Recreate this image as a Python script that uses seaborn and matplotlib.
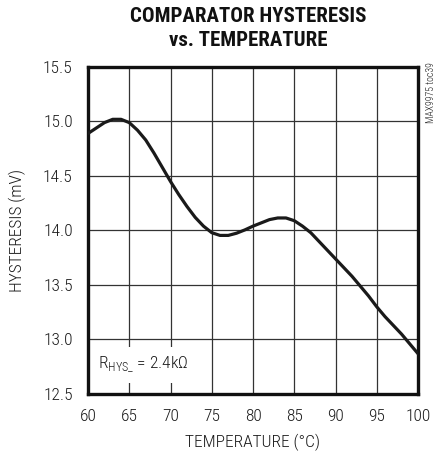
import matplotlib
matplotlib.use("Agg")
import matplotlib.pyplot as plt
from matplotlib.patches import Rectangle
import pandas as pd
import seaborn as sns

# Comparator hysteresis measured across temperature (RHYS_ = 2.4 kOhm)
temperature_c = [60, 61, 62, 63, 64, 65, 66, 67, 68, 69, 70,
                 71, 72, 73, 74, 75, 76, 77, 78, 79, 80,
                 81, 82, 83, 84, 85, 86, 87, 88, 89, 90,
                 91, 92, 93, 94, 95, 96, 97, 98, 99, 100]
hysteresis_mv = [14.89, 14.94, 14.99, 15.02, 15.02, 14.99, 14.92, 14.83, 14.71, 14.58, 14.45,
                 14.33, 14.22, 14.12, 14.04, 13.98, 13.955, 13.955, 13.975, 14.005, 14.04,
                 14.07, 14.10, 14.115, 14.115, 14.09, 14.04, 13.98, 13.90, 13.82, 13.74,
                 13.66, 13.58, 13.49, 13.40, 13.30, 13.21, 13.13, 13.05, 12.96, 12.87]

x_ticks = [60, 65, 70, 75, 80, 85, 90, 95, 100]
y_ticks = [12.5, 13.0, 13.5, 14.0, 14.5, 15.0, 15.5]
y_tick_labels = ["12.5", "13.0", "13.5", "14.0", "14.5", "15.0", "15.5"]

df = pd.DataFrame({"temperature": temperature_c, "hysteresis": hysteresis_mv})

sns.set_style("white")
plt.rcParams["font.family"] = ["Roboto Condensed", "DejaVu Sans"]
plt.rcParams["font.weight"] = "light"
plt.rcParams["mathtext.fontset"] = "custom"
plt.rcParams["mathtext.rm"] = "Roboto Condensed:light"

fig = plt.figure(figsize=(4.38, 4.59), dpi=100)
ax = fig.add_axes([88 / 438, 1 - 394 / 459, 330 / 438, 327 / 459])

sns.lineplot(data=df, x="temperature", y="hysteresis", ax=ax,
             color="#1a1a1a", linewidth=2.3, zorder=3)

ax.set_xlim(60, 100)
ax.set_ylim(12.5, 15.5)
ax.set_xticks(x_ticks)
ax.set_yticks(y_ticks)
ax.set_xticklabels([str(t) for t in x_ticks], fontweight="light")
ax.set_yticklabels(y_tick_labels, fontweight="light")
ax.tick_params(axis="both", length=0, pad=11, labelsize=12.5, colors="#1a1a1a")

ax.set_axisbelow(True)
ax.grid(True, color="#333333", linewidth=0.9)
for spine in ax.spines.values():
    spine.set_visible(True)
    spine.set_color("#111111")
    spine.set_linewidth(2.4)

ax.set_xlabel("TEMPERATURE (°C)", fontsize=12.5, fontweight="light",
              color="#1a1a1a", labelpad=7)
ax.set_ylabel("HYSTERESIS (mV)", fontsize=12.5, fontweight="light",
              color="#1a1a1a", labelpad=12)

# white panel behind the condition label
ax.add_patch(Rectangle((0.0, 0.033), 0.345, 0.11, transform=ax.transAxes,
                       facecolor="white", edgecolor="none", zorder=1))
ax.text(61.2, 12.77, r"R$_{\mathregular{HYS\_}}$ = 2.4k$\Omega$", fontsize=12.5,
        fontweight="light", color="#1a1a1a", va="center", ha="left", zorder=2)

fig.text(248 / 438, 1 - 17 / 459, "COMPARATOR HYSTERESIS", ha="center", va="center",
         fontsize=15, fontweight="black", color="#111111")
fig.text(248 / 438, 1 - 40 / 459, "vs. TEMPERATURE", ha="center", va="center",
         fontsize=15, fontweight="black", color="#111111")

fig.text(431 / 438, 1 - 93 / 459, "MAX9975 toc39", rotation=90, ha="center", va="center",
         fontsize=7, fontweight="light", color="#1a1a1a")

fig.savefig("out.png", dpi=100)
